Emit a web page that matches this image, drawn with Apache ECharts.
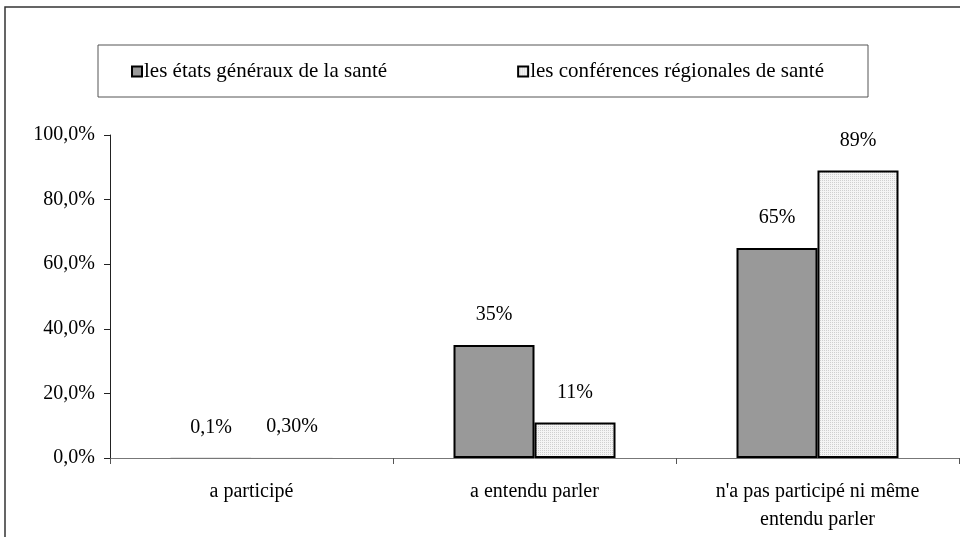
<!DOCTYPE html>
<html>
<head>
<meta charset="utf-8">
<script src="https://cdn.jsdelivr.net/npm/echarts@6/dist/echarts.min.js"></script>
<style>
  html, body { margin: 0; padding: 0; background: #fff; }
  #chart { width: 960px; height: 537px; }
</style>
</head>
<body>
<div id="chart"></div>
<script>
// données
var categories = ['a participé', 'a entendu parler', "n'a pas participé ni même\nentendu parler"];
var seriesNames = ['les états généraux de la santé', 'les conférences régionales de santé'];
var etatsGeneraux = [0.1, 35, 65];
var conferencesRegionales = [0.3, 11, 89];
var etatsLabels = ['0,1%', '35%', '65%'];
var conferencesLabels = ['0,30%', '11%', '89%'];
var yTicks = [0, 20, 40, 60, 80, 100];

// motif pointillé pour la 2e série
function makePattern() {
    var c = document.createElement('canvas');
    c.width = 4; c.height = 4;
    var ctx = c.getContext('2d');
    ctx.fillStyle = '#f4f4f4';
    ctx.fillRect(0, 0, 4, 4);
    ctx.fillStyle = '#cfcfcf';
    ctx.fillRect(0, 0, 1, 1);
    ctx.fillRect(2, 2, 1, 1);
    ctx.fillRect(2, 0, 1, 1);
    ctx.fillRect(0, 2, 1, 1);
    return c;
}

// les barres quasi nulles n'ont pas de contour visible
function toData(arr) {
    return arr.map(function (v) {
        return v < 1 ? { value: v, itemStyle: { borderWidth: 0 } } : v;
    });
}

var font = '"Liberation Serif", "DejaVu Serif", serif';
var myChart = echarts.init(document.getElementById('chart'));

var option = {
    animation: false,
    textStyle: { fontFamily: font },
    graphic: [
        { // cadre extérieur
            type: 'rect',
            shape: { x: 5, y: 7, width: 1000, height: 600 },
            style: { fill: 'none', stroke: '#333', lineWidth: 1.5 },
            silent: true
        },
        { // cadre de la légende
            type: 'rect',
            shape: { x: 98, y: 45, width: 770, height: 52 },
            style: { fill: '#fff', stroke: '#555', lineWidth: 1 },
            silent: true,
            z: 0
        }
    ],
    legend: {
        left: 131,
        top: 61,
        padding: 0,
        itemWidth: 10,
        itemHeight: 10,
        itemGap: 130,
        icon: 'rect',
        z: 5,
        textStyle: { fontFamily: font, fontSize: 21, color: '#000', padding: [0, 0, 0, -3] },
        data: seriesNames
    },
    grid: {
        left: 110,
        right: 1,
        top: 135,
        bottom: 79
    },
    xAxis: {
        type: 'category',
        data: categories,
        axisLine: { lineStyle: { color: '#777', width: 1 } },
        axisTick: { show: true, length: 6, lineStyle: { color: '#555' } },
        axisLabel: { color: '#000', fontSize: 20, margin: 20, lineHeight: 28, fontFamily: font }
    },
    yAxis: {
        type: 'value',
        min: 0,
        max: 100,
        interval: 20,
        axisLine: { show: true, lineStyle: { color: '#222', width: 1 } },
        axisTick: { show: true, length: 6, lineStyle: { color: '#222' } },
        splitLine: { show: false },
        axisLabel: {
            color: '#000', fontSize: 20, margin: 15, fontFamily: font,
            formatter: function (v) {
                return yTicks.indexOf(v) >= 0 ? v.toFixed(1).replace('.', ',') + '%' : '';
            }
        }
    },
    series: [
        {
            name: seriesNames[0],
            type: 'bar',
            barWidth: 81,
            barGap: '0%',
            data: toData(etatsGeneraux),
            itemStyle: { color: '#999999', borderColor: '#000', borderWidth: 2 },
            label: {
                show: true, position: 'top', distance: 20,
                color: '#000', fontSize: 20, fontFamily: font,
                formatter: function (p) { return etatsLabels[p.dataIndex]; }
            }
        },
        {
            name: seriesNames[1],
            type: 'bar',
            barWidth: 81,
            barGap: '0%',
            data: toData(conferencesRegionales),
            itemStyle: { color: { image: makePattern(), repeat: 'repeat' }, borderColor: '#000', borderWidth: 2 },
            label: {
                show: true, position: 'top', distance: 20,
                color: '#000', fontSize: 20, fontFamily: font,
                formatter: function (p) { return conferencesLabels[p.dataIndex]; }
            }
        }
    ]
};

myChart.setOption(option);
</script>
</body>
</html>
